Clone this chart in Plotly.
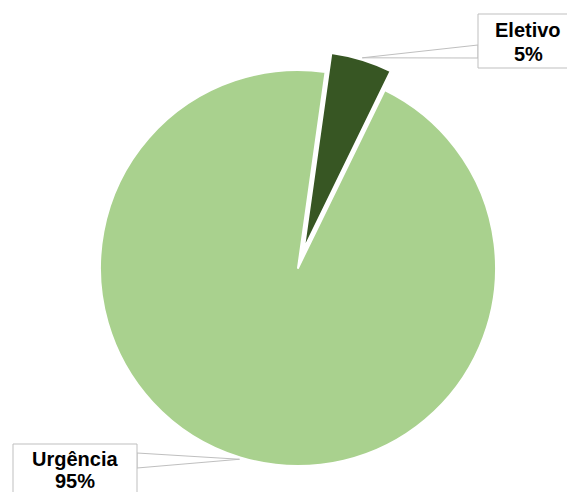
import math
import plotly.graph_objects as go

labels = ["Eletivo", "Urgência"]
values = [5, 95]
colors = ["#375623", "#A9D18E"]
pulls = [0.1, 0.0]

W, H = 567, 492
ROT = 8            # start angle (deg, clockwise from 12 o'clock)
CX, CY, R = 298, 268, 198   # pie centre / radius in pixels
maxpull = max(pulls)
RO = R * (1 + maxpull)

def px(x):
    return x / W

def py(y):
    return 1 - y / H

fig = go.Figure(go.Pie(
    labels=labels, values=values, sort=False, direction="clockwise",
    rotation=ROT, pull=pulls, textinfo="none", showlegend=False,
    marker=dict(colors=colors, line=dict(color="white", width=2)),
    domain=dict(x=[px(CX - RO), px(CX + RO)], y=[py(CY + RO), py(CY - RO)]),
))

# label boxes (pixels) and leader attachment on box edge
boxes = [
    dict(x0=478, x1=575, y0=14, y1=68, tx=528, ty1=30, ty2=54,
         edge_x=478, y_top=45, y_bot=58),
    dict(x0=13, x1=137, y0=444, y1=500, tx=75, ty1=459, ty2=481,
         edge_x=137, y_top=453, y_bot=468),
]

total = sum(values)
start = ROT
shapes = []
annotations = []
font = dict(family="Liberation Sans, Arial", size=20, color="black")
for lab, v, p, b in zip(labels, values, pulls, boxes):
    mid = start + 360 * v / total / 2
    start += 360 * v / total
    rr = R * (1 + p) + 2
    ax = CX + rr * math.sin(math.radians(mid))
    ay = CY - rr * math.cos(math.radians(mid))
    path = (f"M {px(b['edge_x'])},{py(b['y_top'])} L {px(ax)},{py(ay)} "
            f"L {px(b['edge_x'])},{py(b['y_bot'])} Z")
    shapes.append(dict(type="path", xref="paper", yref="paper", path=path,
                       line=dict(color="#bfbfbf", width=1), fillcolor="white"))
    shapes.append(dict(type="rect", xref="paper", yref="paper",
                       x0=px(b["x0"]), x1=px(b["x1"]), y0=py(b["y1"]), y1=py(b["y0"]),
                       line=dict(color="#bfbfbf", width=1), fillcolor="white"))
    pct = round(100 * v / total)
    for txt, ty in ((lab, b["ty1"]), (f"{pct}%", b["ty2"])):
        annotations.append(dict(
            xref="paper", yref="paper", x=px(b["tx"]), y=py(ty),
            xanchor="center", yanchor="middle", showarrow=False,
            text=f"<b>{txt}</b>", font=font, borderpad=0,
        ))

fig.update_layout(
    width=W, height=H, margin=dict(l=0, r=0, t=0, b=0),
    paper_bgcolor="white", plot_bgcolor="white",
    shapes=shapes, annotations=annotations,
)
fig.write_html("out.html", config={"displayModeBar": False},
               post_script="document.body.style.margin='0';")
